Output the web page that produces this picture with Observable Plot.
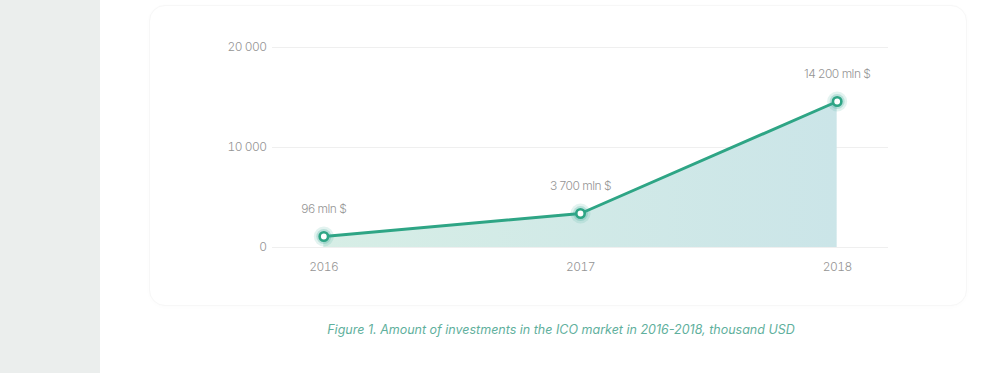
<!DOCTYPE html>
<html>
<head>
<meta charset="utf-8">
<script src="https://cdn.jsdelivr.net/npm/d3@7"></script>
<script src="https://cdn.jsdelivr.net/npm/@observablehq/plot@0.6"></script>
<style>
  html, body { margin: 0; padding: 0; background: #ffffff; width: 1005px; height: 373px; overflow: hidden; }
  #side { position: absolute; left: 0; top: 0; width: 100px; height: 373px; background: #ebeeed; }
  #card { position: absolute; left: 149px; top: 5px; width: 816px; height: 299px; border-radius: 16px;
          border: 1px solid #f7f7f7; box-shadow: 0 1px 5px rgba(0,0,0,0.015); background: #fff; }
  #chart { position: absolute; left: 0; top: 0; }
  #caption { position: absolute; left: 0; top: 322px; width: 1122px; text-align: center;
             font-family: Inter, "Noto Sans", sans-serif; font-style: italic; font-size: 12.5px;
             color: #5fb09d; letter-spacing: 0px; }
</style>
</head>
<body>
<div id="side"></div>
<div id="card"></div>
<div id="chart"></div>
<div id="caption">Figure 1. Amount of investments in the ICO market in 2016-2018, thousand USD</div>
<script>
const years = [2016, 2017, 2018];
const values = [1100, 3400, 14600];
const pointLabels = ["96 mln $", "3 700 mln $", "14 200 mln $"];
const yTicks = [0, 10000, 20000];
const yTickLabels = ["0", "10 000", "20 000"];

const data = years.map((year, i) => ({year, value: values[i], label: pointLabels[i]}));
const green = "#2ea585";

const plot = Plot.plot({
  width: 1005,
  height: 300,
  marginLeft: 272,
  marginRight: 117,
  marginTop: 47,
  marginBottom: 53,
  style: {fontFamily: "Inter, 'Noto Sans', sans-serif", fontSize: "12px", fontWeight: 300, color: "#959595", background: "transparent", overflow: "visible"},
  x: {domain: [2015.8, 2018.2], ticks: years, tickFormat: d => String(d), tickSize: 0, tickPadding: 15, label: null},
  y: {domain: [0, 20000], ticks: yTicks, tickFormat: d => yTickLabels[yTicks.indexOf(d)], tickSize: 0, tickPadding: 6, label: null},
  marks: [
    Plot.gridY(yTicks, {stroke: "#efefef", strokeOpacity: 1, strokeWidth: 1}),
    Plot.areaY(data, {x: "year", y: "value", fill: "url(#areaGrad)"}),
    Plot.line(data, {x: "year", y: "value", stroke: green, strokeWidth: 3}),
    Plot.dot(data, {x: "year", y: "value", r: 10, fill: "#3aa996", fillOpacity: 0.14, stroke: null}),
    Plot.dot(data, {x: "year", y: "value", r: 7.5, fill: "#3aa996", fillOpacity: 0.25, stroke: null}),
    Plot.dot(data, {x: "year", y: "value", r: 4.2, fill: "#ffffff", stroke: green, strokeWidth: 2.6}),
    Plot.text(data, {x: "year", y: "value", text: "label", dy: -27, fill: "#959595", fontSize: 12})
  ]
});

const svg = d3.select(plot);
const defs = svg.insert("defs", ":first-child");
const grad = defs.append("linearGradient").attr("id", "areaGrad")
  .attr("x1", "0").attr("x2", "1").attr("y1", "0").attr("y2", "0");
grad.append("stop").attr("offset", "0%").attr("stop-color", "#d7eee6");
grad.append("stop").attr("offset", "100%").attr("stop-color", "#cbe5e8");
svg.selectAll("text").style("letter-spacing", "-0.5px").style("font-weight", 300);

document.getElementById("chart").appendChild(plot);
</script>
</body>
</html>
